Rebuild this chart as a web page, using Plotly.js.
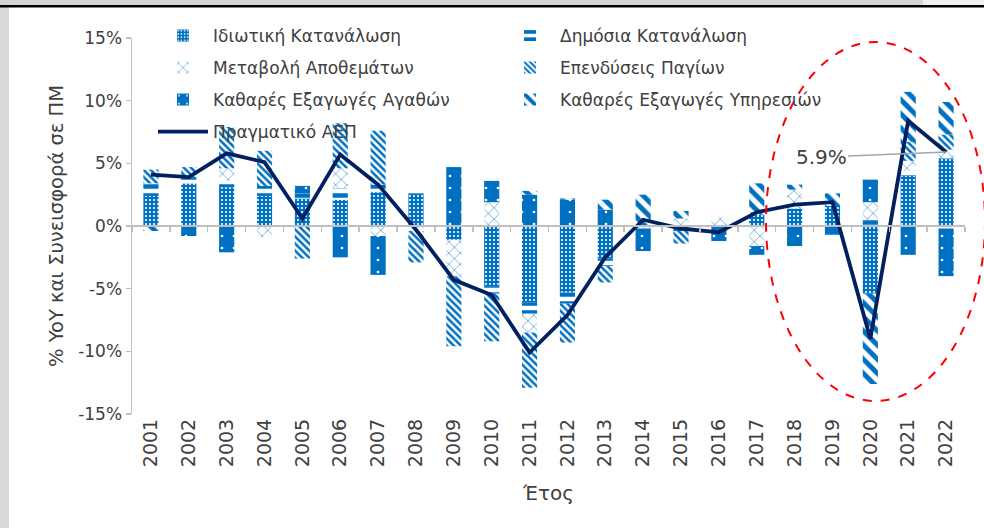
<!DOCTYPE html>
<html>
<head>
<meta charset="utf-8">
<script src="https://cdn.plot.ly/plotly-3.0.1.min.js"></script>
<style>
  html, body { margin: 0; padding: 0; background: #ffffff; }
  #chart { width: 984px; height: 528px; }
</style>
</head>
<body>
<div id="chart"></div>
<script>
// ---------- data ----------
const years = ['2001','2002','2003','2004','2005','2006','2007','2008','2009','2010','2011',
               '2012','2013','2014','2015','2016','2017','2018','2019','2020','2021','2022'];
const privateCons   = [2.4, 3.4, 3.1, 2.4, 2.2, 2.1, 2.7, 2.6, -1.1, -4.8, -6.1, -5.3, -2.6, 0.0, -0.4, 0.0, 0.9, 1.4, 1.6, -5.4, 4.0, 5.4];
const publicCons    = [1.0, 0.5, 0.5, 0.8, 0.4, 0.9, 0.6, 0.1, 0.0, -0.6, -0.9, -0.9, -0.6, 0.0, 0.0, 0.0, 0.0, 0.0, 0.0, 0.5, 0.4, -0.2];
const stockChange   = [0.0, 0.0, 1.0, -0.9, 0.0, 1.6, -0.8, -0.4, -2.9, 1.9, -1.5, 0.0, 0.0, -0.2, 0.6, 0.7, -1.6, 1.5, 0.0, 1.4, 0.8, 0.7];
const fixedInvest   = [1.1, 0.8, 3.3, 2.8, -2.6, 3.6, 4.3, -2.5, -5.6, -3.8, -4.4, -3.1, -1.3, 0.0, -1.0, 0.0, 0.2, 0.0, 0.0, 0.0, 1.5, 1.2];
const netGoods      = [0.0, -0.8, -2.1, 0.0, 0.6, -2.5, -3.1, 0.0, 4.7, 1.7, 2.5, 2.1, 1.3, -1.8, 0.0, -1.2, -0.7, -1.6, -0.7, 1.8, -2.3, -3.8];
const netServices   = [-0.4, 0.0, 0.0, 0.0, 0.0, 0.0, 0.0, 0.0, 0.0, 0.0, 0.3, 0.1, 0.8, 2.5, 0.6, 0.0, 2.3, 0.4, 1.0, -7.2, 4.0, 2.6];
const realGdp       = [4.1, 3.9, 5.8, 5.1, 0.6, 5.7, 3.3, -0.3, -4.3, -5.5, -10.1, -7.1, -2.5, 0.5, -0.2, -0.5, 1.1, 1.7, 1.9, -9.0, 8.4, 5.9];
const yTickVals = [-15, -10, -5, 0, 5, 10, 15];
const yTickText = ['-15%', '-10%', '-5%', '0%', '5%', '10%', '15%'];
const seriesNames = ['Ιδιωτική Κατανάλωση', 'Δημόσια Κατανάλωση', 'Μεταβολή Αποθεμάτων',
                     'Επενδύσεις Παγίων', 'Καθαρές Εξαγωγές Αγαθών', 'Καθαρές Εξαγωγές Υπηρεσιών'];
const gdpName = 'Πραγματικό ΑΕΠ';
const labelYear = '2022';
const labelValue = 5.9;

// ---------- styling ----------
const BLUE = '#0070c0';
const NAVY = '#002060';
const TXT = '#404040';
const AX = '#bfbfbf';
const FONT = 'DejaVu Sans, Noto Sans, sans-serif';

const W = 984, H = 528;
const M = {l: 132, r: 19, t: 38, b: 114, autoexpand: false};
const pw = W - M.l - M.r, ph = H - M.t - M.b;
const px = X => (X - M.l) / pw;
const py = Y => (H - M.b - Y) / ph;
const cx = X => X / W;
const cy = Y => 1 - Y / H;

const patterns = [
  {shape: '.', fgcolor: '#ffffff', bgcolor: BLUE, size: 4, solidity: 0.22},
  {shape: '-', fgcolor: BLUE, bgcolor: '#ffffff', size: 9, solidity: 0.5},
  {shape: 'x', fgcolor: BLUE, bgcolor: '#ffffff', size: 8, solidity: 0.12},
  {shape: '\\', fgcolor: BLUE, bgcolor: '#ffffff', size: 5, solidity: 0.5},
  {shape: '.', fgcolor: '#ffffff', bgcolor: BLUE, size: 12, solidity: 0.04},
  {shape: '\\', fgcolor: BLUE, bgcolor: '#ffffff', size: 10, solidity: 0.5}
];
const legendOf = ['legend', 'legend', 'legend2', 'legend2', 'legend3', 'legend3'];
const seriesData = [privateCons, publicCons, stockChange, fixedInvest, netGoods, netServices];

const traces = seriesData.map((vals, i) => ({
  type: 'bar',
  name: seriesNames[i],
  x: years,
  y: vals,
  legend: legendOf[i],
  marker: {color: BLUE, line: {width: 0}, pattern: patterns[i]},
  hoverinfo: 'x+y+name'
}));

traces.push({
  type: 'scatter', mode: 'lines', name: gdpName, x: years, y: realGdp,
  legend: 'legend4',
  line: {color: NAVY, width: 3.8}
});
// invisible helper trace for the zero-line category axis (tick marks at boundaries)
traces.push({
  type: 'scatter', mode: 'markers', x: years, y: realGdp, xaxis: 'x2',
  marker: {opacity: 0}, showlegend: false, hoverinfo: 'skip'
});

const legendBase = {
  orientation: 'h', xanchor: 'left', yanchor: 'middle',
  xref: 'container', yref: 'container',
  entrywidth: 282, entrywidthmode: 'pixels',
  bgcolor: 'rgba(0,0,0,0)', font: {family: FONT, size: 17, color: TXT},
  traceorder: 'normal', itemwidth: 50
};
const legX = cx(153);

const layout = {
  width: W, height: H,
  margin: M,
  paper_bgcolor: '#ffffff', plot_bgcolor: 'rgba(0,0,0,0)',
  font: {family: FONT, color: TXT},
  barmode: 'relative',
  bargap: 0.6,
  showlegend: true,
  legend:  Object.assign({}, legendBase, {x: legX, y: cy(36)}),
  legend2: Object.assign({}, legendBase, {x: legX, y: cy(68)}),
  legend3: Object.assign({}, legendBase, {x: legX, y: cy(100)}),
  legend4: Object.assign({}, legendBase, {x: legX, y: cy(132)}),
  xaxis: {
    type: 'category', range: [-0.5, 21.5], tickangle: -90,
    showline: false, showgrid: false, zeroline: false, ticks: '',
    tickfont: {family: FONT, size: 19, color: TXT},
    title: {text: 'Έτος', font: {family: FONT, size: 20, color: TXT}, standoff: 19},
    automargin: false
  },
  xaxis2: {
    type: 'category', overlaying: 'x', anchor: 'free', position: 0.5,
    range: [-0.5, 21.5], showline: true, linecolor: AX, linewidth: 2,
    ticks: 'outside', tickson: 'boundaries', ticklen: 5, tickcolor: AX, tickwidth: 1.5,
    showticklabels: false, showgrid: false, zeroline: false
  },
  yaxis: {
    range: [-15, 15], tickvals: yTickVals, ticktext: yTickText,
    showline: true, linecolor: AX, linewidth: 1.5,
    ticks: 'outside', ticklen: 5, tickcolor: AX, tickwidth: 1.5,
    showgrid: false, zeroline: false,
    tickfont: {family: FONT, size: 17, color: TXT},
    title: {text: '% YoY και Συνεισφορά σε ΠΜ', font: {family: FONT, size: 19.5, color: TXT}, standoff: 9},
    automargin: false
  },
  annotations: [{
    x: years.indexOf(labelYear), y: labelValue, xref: 'x', yref: 'y',
    text: labelValue.toFixed(1) + '%', showarrow: true, arrowhead: 0,
    arrowwidth: 1.5, arrowcolor: '#a6a6a6', ax: -125, ay: 5,
    font: {family: FONT, size: 20, color: TXT}
  }],
  shapes: [
    {type: 'circle', xref: 'paper', yref: 'paper',
     x0: px(766), x1: px(985), y0: py(401), y1: py(42),
     line: {color: '#ff0000', width: 2, dash: 'dash'}, fillcolor: 'rgba(0,0,0,0)'},
    {type: 'rect', xref: 'paper', yref: 'paper', x0: px(0), x1: px(9), y0: py(528), y1: py(7),
     line: {width: 0}, fillcolor: '#d9d9d9', layer: 'below'},
    {type: 'rect', xref: 'paper', yref: 'paper', x0: px(0), x1: px(923), y0: py(5), y1: py(0),
     line: {width: 0}, fillcolor: '#d4d4d4', layer: 'below'},
    {type: 'rect', xref: 'paper', yref: 'paper', x0: px(923), x1: px(984), y0: py(5), y1: py(0),
     line: {width: 0}, fillcolor: '#efefef', layer: 'below'},
    {type: 'rect', xref: 'paper', yref: 'paper', x0: px(0), x1: px(984), y0: py(7.5), y1: py(5),
     line: {width: 0}, fillcolor: '#000000', layer: 'below'}
  ]
};

Plotly.newPlot('chart', traces, layout, {displayModeBar: false, staticPlot: true});
</script>
</body>
</html>
